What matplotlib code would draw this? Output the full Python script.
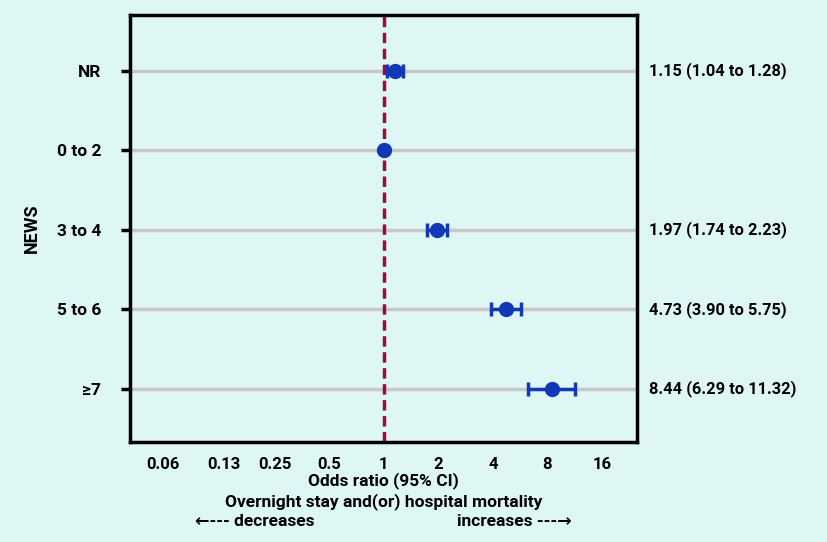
import matplotlib.pyplot as plt
import numpy as np

# NEWS categories and odds ratios (95% CI)
categories = ["NR", "0 to 2", "3 to 4", "5 to 6", "\u22657"]
odds = [1.15, 1.0, 1.97, 4.73, 8.44]
ci_low = [1.04, 1.0, 1.74, 3.90, 6.29]
ci_high = [1.28, 1.0, 2.23, 5.75, 11.32]
labels_right = ["1.15 (1.04 to 1.28)", "", "1.97 (1.74 to 2.23)",
                "4.73 (3.90 to 5.75)", "8.44 (6.29 to 11.32)"]

x_ticks = [0.06, 0.13, 0.25, 0.5, 1, 2, 4, 8, 16]
x_ticklabels = ["0.06", "0.13", "0.25", "0.5", "1", "2", "4", "8", "16"]

bg = "#dff7f4"
blue = "#1238b8"
maroon = "#9c0a3f"

plt.rcParams['font.family'] = ['Roboto', 'DejaVu Sans']
plt.rcParams['font.weight'] = 'bold'

fig = plt.figure(figsize=(8.27, 5.42), dpi=100, facecolor=bg)
ax = fig.add_axes([0.157, 0.185, 0.613, 0.787], facecolor=bg)

y = np.arange(len(categories))

# horizontal grey guide lines
for yi in y:
    ax.axhline(yi, color="#c8c8c8", lw=2.5, zorder=1)

ax.axvline(1, color=maroon, lw=2.5, linestyle=(0, (3, 1.6)), zorder=2)

odds_a = np.array(odds)
err = [odds_a - np.array(ci_low), np.array(ci_high) - odds_a]
ax.errorbar(odds, y, xerr=err, fmt="o", color=blue, ms=10, elinewidth=2.5,
            capsize=5, capthick=2.5, zorder=3)

ax.set_xscale("log", base=2)
ax.set_xlim(2 ** -4.66, 2 ** 4.64)
ax.set_ylim(len(categories) - 1 + 0.67, -0.7)

ax.set_xticks(x_ticks)
ax.set_xticklabels(x_ticklabels)
ax.minorticks_off()
ax.tick_params(axis="x", length=0, labelsize=12, pad=11)
ax.set_yticks(y)
ax.set_yticklabels(categories)
ax.tick_params(axis="y", length=6.5, width=2.5, labelsize=12.5, pad=14)

for s in ax.spines.values():
    s.set_linewidth(2.5)
    s.set_color("black")

for yi, t in zip(y, labels_right):
    ax.annotate(t, xy=(1, yi), xycoords=("axes fraction", "data"),
                xytext=(9, 0), textcoords="offset points",
                ha="left", va="center", fontsize=11.8, fontweight="bold",
                annotation_clip=False)

ax.set_ylabel("NEWS", fontsize=13, fontweight="bold")
ax.yaxis.set_label_coords(-0.175, 0.5)

cx = ax.transData.transform((1, 0))[0] / fig.bbox.width
fig.text(cx, 0.1125, "Odds ratio (95% CI)", ha="center", va="center", fontsize=12.5)
fig.text(cx, 0.074, "Overnight stay and(or) hospital mortality", ha="center",
         va="center", fontsize=12.5)
fig.text(0.308, 0.037, "\u2190--- decreases", ha="center", va="center", fontsize=12.5)
fig.text(0.622, 0.037, "increases ---\u2192", ha="center", va="center", fontsize=12.5)

fig.savefig("out.png", dpi=100, facecolor=bg)
